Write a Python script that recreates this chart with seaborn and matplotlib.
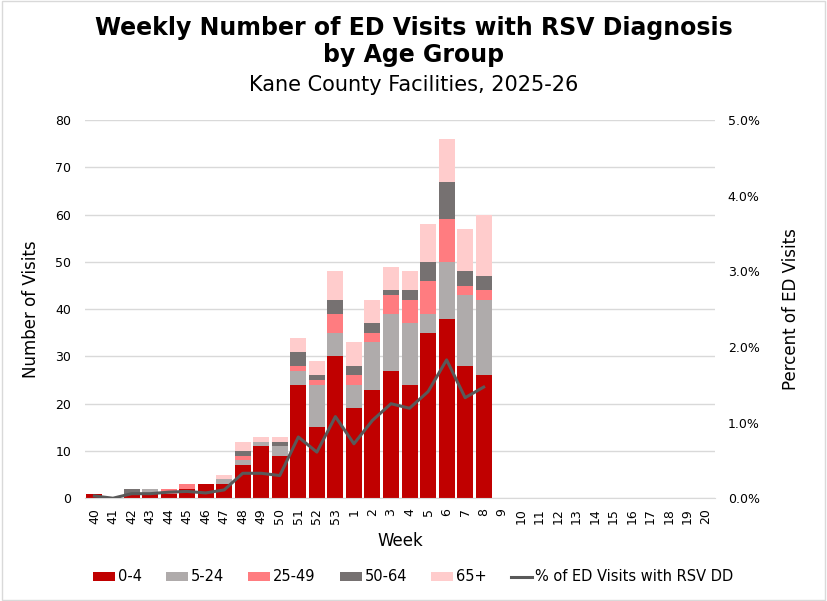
import numpy as np
import pandas as pd
import seaborn as sns
import matplotlib.pyplot as plt
from matplotlib.patches import Patch, Rectangle
from matplotlib.lines import Line2D
from matplotlib.ticker import PercentFormatter

weeks = [str(w) for w in list(range(40, 54)) + list(range(1, 21))]

# counts, weeks 40..8 (rest are empty)
age_0_4 = [1, 0, 1, 1, 1, 2, 3, 3, 7, 11, 9, 24, 15, 30, 19, 23, 27, 24, 35, 38, 28, 26]
age_5_24 = [0, 0, 0, 1, 0, 0, 0, 1, 1, 1, 2, 3, 9, 5, 5, 10, 12, 13, 4, 12, 15, 16]
age_25_49 = [0, 0, 0, 0, 1, 1, 0, 0, 1, 0, 0, 1, 1, 4, 2, 2, 4, 5, 7, 9, 2, 2]
age_50_64 = [0, 0, 1, 0, 0, 0, 0, 0, 1, 0, 1, 3, 1, 3, 2, 2, 1, 2, 4, 8, 3, 3]
age_65 = [0, 0, 0, 0, 0, 0, 0, 1, 2, 1, 1, 3, 3, 6, 5, 5, 5, 4, 8, 9, 9, 13]
pct_rsv = [0.03, 0.0, 0.06, 0.06, 0.08, 0.09, 0.07, 0.11, 0.33, 0.33, 0.30, 0.81, 0.61,
           1.08, 0.72, 1.03, 1.25, 1.19, 1.41, 1.83, 1.33, 1.47]

groups = ['0-4', '5-24', '25-49', '50-64', '65+']
colors = ['#C00000', '#AFABAB', '#FF7C80', '#767171', '#FFCCCC']

n_pad = len(weeks) - len(age_0_4)
df = pd.DataFrame({'week': weeks})
for g, vals in zip(groups, [age_0_4, age_5_24, age_25_49, age_50_64, age_65]):
    df[g] = vals + [0] * n_pad

# cumulative sums so overlaid bars look stacked
cum = df[groups].cumsum(axis=1)

plt.rcParams['font.family'] = ['DejaVu Sans']
fig = plt.figure(figsize=(8.27, 6.01), dpi=100)
ax = fig.add_axes([0.103, 0.171, 0.762, 0.629])

for g, c in reversed(list(zip(groups, colors))):
    sns.barplot(x=df['week'], y=cum[g], order=weeks, color=c, width=0.865,
                saturation=1, ax=ax, zorder=2)

ax.set_ylim(0, 80)
ax.set_yticks(range(0, 81, 10))
ax.set_xlim(-0.5, len(weeks) - 0.5)
ax.grid(axis='y', color='#D9D9D9', linewidth=1, zorder=0)
ax.set_axisbelow(True)
ax.set_ylabel('Number of Visits', fontsize=12, labelpad=11)
ax.set_xlabel('Week', fontsize=12, labelpad=6)
ax.tick_params(axis='x', rotation=90, labelsize=9, length=0, pad=7)
ax.tick_params(axis='y', labelsize=9, length=0, pad=10)
for s in ['top', 'left', 'right']:
    ax.spines[s].set_visible(False)
ax.spines['bottom'].set_color('#D9D9D9')

ax2 = ax.twinx()
line_df = pd.DataFrame({'x': np.arange(len(pct_rsv)), 'pct': pct_rsv})
sns.lineplot(data=line_df, x='x', y='pct', color='#595959', linewidth=2.2, ax=ax2, zorder=3)
ax2.set_xlim(-0.5, len(weeks) - 0.5)
ax2.set_ylim(0, 5)
ax2.set_yticks(np.arange(0, 5.01, 1))
ax2.yaxis.set_major_formatter(PercentFormatter(decimals=1))
ax2.set_ylabel('Percent of ED Visits', fontsize=12, labelpad=16)
ax2.tick_params(axis='y', labelsize=9, length=0, pad=9)
for s in ['top', 'left', 'right', 'bottom']:
    ax2.spines[s].set_visible(False)

fig.text(0.5, 0.953, 'Weekly Number of ED Visits with RSV Diagnosis',
         ha='center', va='center', fontsize=17, fontweight='bold')
fig.text(0.5, 0.908, 'by Age Group', ha='center', va='center', fontsize=17, fontweight='bold')
fig.text(0.5, 0.858, 'Kane County Facilities, 2025-26', ha='center', va='center', fontsize=15)

handles = [Patch(facecolor=c, label=g) for g, c in zip(groups, colors)]
handles.append(Line2D([0], [0], color='#595959', linewidth=2.2, label='% of ED Visits with RSV DD'))
fig.legend(handles=handles, loc='center', bbox_to_anchor=(0.5, 0.04), ncol=6, frameon=False,
           fontsize=10.5, handlelength=1.5, handleheight=0.55, columnspacing=1.65, handletextpad=0.2)

fig.patches.append(Rectangle((0.002, 0.002), 0.996, 0.996, transform=fig.transFigure,
                             fill=False, edgecolor='#D9D9D9', linewidth=1))

fig.savefig('out.png', dpi=100)
